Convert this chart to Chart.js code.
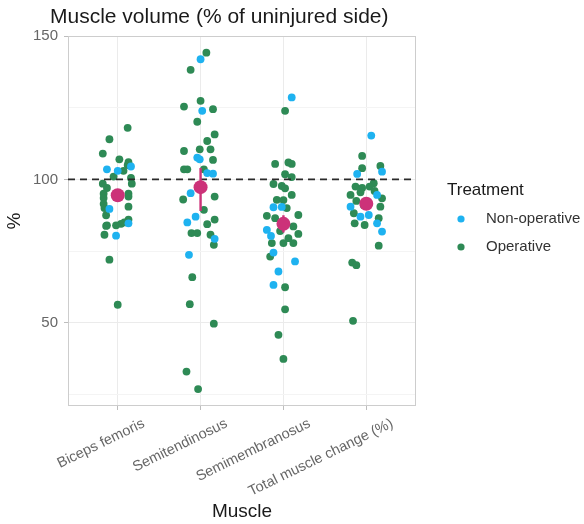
<!DOCTYPE html>
<html>
<head>
<meta charset="utf-8">
<script src="https://cdn.jsdelivr.net/npm/chart.js@4"></script>
<style>
html,body{margin:0;padding:0;background:#fff;}
canvas{display:block;}
</style>
</head>
<body>
<canvas id="c" width="584" height="524"></canvas>
<script>
const chartTitle = 'Muscle volume (% of uninjured side)';
const categories = ['Biceps femoris', 'Semitendinosus', 'Semimembranosus', 'Total muscle change (%)'];
const yTickValues = [25, 50, 75, 100, 125, 150];
const yTickLabels = ['', '50', '', '100', '', '150'];
const referenceLine = 100;

// Operative values per muscle, with read-off horizontal jitter (category units)
const opBiceps = [118, 114, 109, 107, 106, 105, 103, 101, 100.5, 98.5, 98.5, 97, 95, 95, 93.5, 94, 91.5, 90.5, 90, 87.5, 86, 84, 84, 84.5, 85, 83.8, 80.7, 72, 56.3];
const opBicepsJit = [0.12, -0.10, -0.18, 0.02, 0.13, 0.12, 0.07, -0.05, 0.16, -0.18, 0.17, -0.13, -0.17, 0.13, -0.17, 0.13, -0.17, 0.13, -0.16, -0.14, 0.13, -0.13, -0.02, 0.04, 0.08, -0.14, -0.16, -0.10, 0.0];
const opSemiT = [144.2, 138.2, 125.4, 127.4, 124.5, 120.1, 115.7, 113.4, 109.9, 110.5, 110.5, 106.8, 103.5, 103.5, 103.5, 93, 94, 89.4, 86, 84.4, 81.3, 81.3, 80.7, 77.2, 65.9, 56.5, 49.7, 33, 26.9];
const opSemiTJit = [0.07, -0.12, -0.20, 0.0, 0.15, -0.04, 0.17, 0.08, -0.20, -0.01, 0.12, 0.15, -0.20, -0.16, 0.04, -0.21, 0.17, 0.04, 0.17, 0.08, -0.11, -0.04, 0.12, 0.16, -0.10, -0.13, 0.16, -0.17, -0.03];
const opSemiM = [123.9, 105.4, 105.9, 105.4, 101.8, 100.8, 98.4, 97.7, 96.9, 94.6, 92.9, 92.8, 90, 87.6, 86.5, 87.3, 83.6, 81, 82, 77.8, 77.8, 77.8, 79.5, 73.1, 62.4, 54.7, 45.8, 37.4];
const opSemiMJit = [0.02, -0.10, 0.06, 0.10, 0.02, 0.10, -0.12, -0.02, 0.02, 0.10, -0.08, 0.0, 0.04, 0.18, -0.10, -0.20, 0.12, 0.18, -0.04, -0.14, 0.0, 0.12, 0.06, -0.16, 0.02, 0.02, -0.06, 0.0];
const opTotal = [108.2, 104.7, 103.9, 98.7, 97.5, 97, 97.5, 94.6, 93.4, 95.5, 92.5, 90.5, 88.2, 86.5, 84.7, 84.1, 76.9, 71, 70.1, 50.7, 96, 91];
const opTotalJit = [-0.05, 0.17, -0.05, 0.09, -0.13, -0.05, 0.04, -0.19, 0.19, -0.07, -0.12, 0.17, -0.15, 0.15, -0.14, -0.02, 0.15, -0.17, -0.12, -0.16, 0.10, -0.03];

// Non-operative values per muscle, with jitter
const nonBiceps = [103.5, 103, 104.5, 89.7, 84.7, 80.4];
const nonBicepsJit = [-0.13, 0.0, 0.16, -0.10, 0.13, -0.02];
const nonSemiT = [141.9, 123.9, 107.6, 107, 102.2, 102, 95.2, 87, 85, 79.3, 73.7];
const nonSemiTJit = [0.0, 0.02, -0.04, -0.01, 0.08, 0.15, -0.12, -0.06, -0.16, 0.17, -0.14];
const nonSemiM = [128.6, 90.3, 90.4, 82.4, 80.3, 74.5, 71.4, 67.9, 63.2];
const nonSemiMJit = [0.10, -0.12, -0.02, -0.20, -0.15, -0.12, 0.14, -0.06, -0.12];
const nonTotal = [115.3, 102.7, 101.9, 94.6, 90.5, 87, 87.6, 84.7, 81.8];
const nonTotalJit = [0.06, 0.19, -0.11, 0.13, -0.19, -0.07, 0.03, 0.13, 0.19];

// Means and error bar limits
const meanValues = [94.5, 97.3, 84.5, 91.5];
const errLow = [92.5, 89.0, 81.5, 89.5];
const errHigh = [96.5, 104.0, 87.5, 93.5];

const colNon = '#1eb2f0';
const colOp = '#2e8a55';
const colMean = '#cc3279';
const FONT = '"Liberation Sans", Arial, sans-serif';

function build(vals, jits) {
  const out = [];
  vals.forEach((arr, ci) => arr.forEach((v, i) => out.push({x: ci + jits[ci][i], y: v})));
  return out;
}
const opData = build([opBiceps, opSemiT, opSemiM, opTotal], [opBicepsJit, opSemiTJit, opSemiMJit, opTotalJit]);
const nonData = build([nonBiceps, nonSemiT, nonSemiM, nonTotal], [nonBicepsJit, nonSemiTJit, nonSemiMJit, nonTotalJit]);
const meanData = meanValues.map((v, i) => ({x: i, y: v}));
const errData = [];
errLow.forEach((lo, i) => { errData.push({x: i, y: lo}, {x: i, y: errHigh[i]}, {x: i + 0.5, y: null}); });

const deco = {
  id: 'deco',
  beforeDatasetsDraw(chart) {
    const {ctx, chartArea: a} = chart;
    ctx.save();
    ctx.strokeStyle = '#cdcdcd';
    ctx.lineWidth = 1;
    ctx.strokeRect(a.left + 0.5, a.top + 0.5, a.width - 1, a.height - 1);
    ctx.restore();
  },
  afterDraw(chart) {
    const {ctx} = chart;
    ctx.save();
    ctx.fillStyle = '#1a1a1a';
    ctx.textBaseline = 'middle';
    ctx.textAlign = 'left';
    ctx.font = '21px ' + FONT;
    ctx.fillText(chartTitle, 50, 17);
    // legend
    ctx.font = '17px ' + FONT;
    ctx.fillStyle = '#1a1a1a';
    ctx.fillText('Treatment', 447, 190);
    const items = [chart.data.datasets[1], chart.data.datasets[0]];
    items.forEach((ds, i) => {
      const y = 219 + i * 28;
      ctx.beginPath();
      ctx.fillStyle = ds.backgroundColor;
      ctx.arc(461, y, 3.6, 0, Math.PI * 2);
      ctx.fill();
      ctx.fillStyle = '#333';
      ctx.font = '15px ' + FONT;
      ctx.fillText(ds.label, 486, y);
    });
    ctx.restore();
  }
};

new Chart(document.getElementById('c'), {
  type: 'scatter',
  data: {
    datasets: [
      {label: 'Operative', data: opData, backgroundColor: colOp, borderColor: colOp, pointRadius: 3.9, borderWidth: 0, order: 4},
      {label: 'Non-operative', data: nonData, backgroundColor: colNon, borderColor: colNon, pointRadius: 3.9, borderWidth: 0, order: 3},
      {type: 'line', label: 'ref', data: [{x: -0.6, y: referenceLine}, {x: 3.6, y: referenceLine}], borderColor: '#2a2a2a', borderWidth: 1.6, borderDash: [7, 5], pointRadius: 0, order: 2},
      {type: 'line', label: 'err', data: errData, borderColor: colMean, borderWidth: 2.4, pointRadius: 0, spanGaps: false, order: 1},
      {label: 'Mean', data: meanData, backgroundColor: colMean, borderColor: colMean, pointRadius: 7, borderWidth: 0, order: 0}
    ]
  },
  options: {
    responsive: false,
    devicePixelRatio: 1,
    animation: false,
    layout: {padding: {left: 0, right: 168, top: 36, bottom: 0}},
    plugins: {legend: {display: false}, title: {display: false}, tooltip: {enabled: false}},
    scales: {
      x: {
        type: 'linear', min: -0.6, max: 3.6,
        afterBuildTicks: s => { s.ticks = categories.map((c, i) => ({value: i})); },
        afterFit: s => { s.height = 118; },
        grid: {color: '#ebebeb', lineWidth: 1, tickLength: 4, tickColor: '#bdbdbd', drawTicks: true},
        border: {display: false},
        ticks: {
          autoSkip: false, minRotation: 26, maxRotation: 26, padding: 5, labelOffset: 26,
          color: '#666', font: {family: FONT, size: 14.5},
          callback: v => categories[v]
        },
        title: {display: true, text: 'Muscle', color: '#1a1a1a', font: {family: FONT, size: 19}, padding: {top: 0, bottom: 1}}
      },
      y: {
        type: 'linear', min: 21, max: 150,
        afterBuildTicks: s => { s.ticks = yTickValues.map(v => ({value: v})); },
        afterFit: s => { s.width = 68; },
        grid: {
          color: c => (c.tick && c.tick.value % 50 === 0) ? '#ebebeb' : '#f4f4f4',
          tickColor: c => (c.tick && c.tick.value % 50 === 0) ? '#bdbdbd' : 'rgba(0,0,0,0)',
          lineWidth: 1, tickLength: 4
        },
        border: {display: false},
        ticks: {
          padding: 6, color: '#666', font: {family: FONT, size: 15},
          callback: (v, i) => yTickLabels[yTickValues.indexOf(v)]
        },
        title: {display: true, text: '%', color: '#1a1a1a', font: {family: FONT, size: 19}, padding: {top: 3, bottom: 0}}
      }
    }
  },
  plugins: [deco]
});
</script>
</body>
</html>
